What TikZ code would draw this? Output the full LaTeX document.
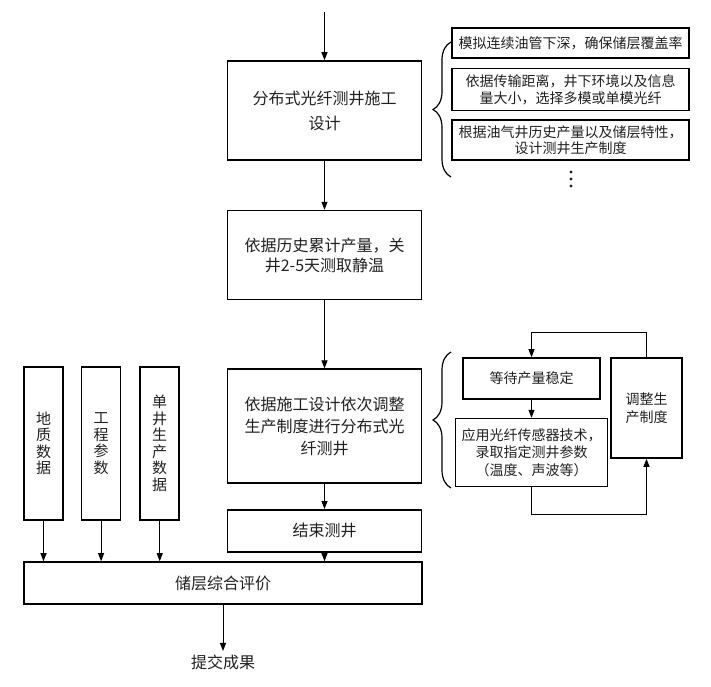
\documentclass[tikz,border=0pt]{standalone}
\usepackage{fontspec}
\newfontfamily\cjk{Noto Sans CJK SC}
\usepackage{xcolor}
\definecolor{darkText}{HTML}{202020}
\usepackage{tikz}
\usetikzlibrary{arrows.meta}
\tikzset{arrow/.style = {-{Triangle[length = 8pt, width = 6pt]}, line width = 1pt}}
\tikzset{box/.style = {draw, line width = 1.6pt, align = center, inner sep = 0pt, text = darkText, font = \cjk\fontsize{16}{22}\selectfont}}
\tikzset{mainbox/.style = {box, minimum width = 194pt}}
\tikzset{sidebox/.style = {box, font = \cjk\fontsize{14}{17.5}\selectfont}}
\tikzset{databox/.style = {box, minimum width = 39pt, minimum height = 153pt, font = \cjk\fontsize{15}{16.5}\selectfont}}
\tikzset{bracket/.style = {decorate, decoration = {brace, amplitude = 18pt}, line width = 1.2pt}}
\usetikzlibrary{positioning}
\usetikzlibrary{calc}
\usetikzlibrary{decorations.pathreplacing}

\begin{document}
\begin{tikzpicture}[x = 1pt, y = -1pt]
	\useasboundingbox (0, 0) rectangle (711, 686);

	%% Main column
	\coordinate (top) at (324.5, 12);
	\node[mainbox, minimum height = 99pt, font = \cjk\fontsize{16}{25}\selectfont] (design) at (324.5, 110.5) {分布式光纤测井施工\\设计};
	\node[mainbox, minimum height = 89pt, font = \cjk\fontsize{16}{20}\selectfont, below = 49pt of design] (hist) {依据历史累计产量，关\\井2-5天测取静温};
	\node[mainbox, minimum height = 114pt, below = 68pt of hist] (adjust) {依据施工设计依次调整\\生产制度进行分布式光\\纤测井};
	\node[mainbox, minimum height = 42pt, below = 25pt of adjust] (finish) {结束测井};

	%% Data columns
	\node[databox] (geo) at (43.5, 443.5) {地\\质\\数\\据};
	\node[databox, right = 17pt of geo] (eng) {工\\程\\参\\数};
	\node[databox, right = 18pt of eng] (prod) {单\\井\\生\\产\\数\\据};

	%% Evaluation
	\node[box, minimum width = 398pt, minimum height = 42pt] (eval) at (223, 583) {储层综合评价};
	\node[text = darkText, font = \cjk\fontsize{16}{20}\selectfont] (result) at (223, 662) {提交成果};

	%% Design details
	\node[sidebox, minimum width = 237pt, minimum height = 30pt] (sim) at (570.5, 43) {模拟连续油管下深，确保储层覆盖率};
	\node[sidebox, minimum width = 237pt, minimum height = 42pt, below = 9pt of sim] (fiber) {依据传输距离，井下环境以及信息\\量大小，选择多模或单模光纤};
	\node[sidebox, minimum width = 237pt, minimum height = 40pt, font = \cjk\fontsize{14}{16}\selectfont, below = 8pt of fiber] (sched) {根据油气井历史产量以及储层特性，\\设计测井生产制度};
	% more items
	\foreach \y in {172, 179, 186}
		\fill[darkText] (571, \y) circle (1.6pt);

	%% Logging loop
	\node[sidebox, minimum width = 137pt, minimum height = 41pt] (wait) at (531.5, 378.5) {等待产量稳定};
	\node[sidebox, minimum width = 152pt, minimum height = 68pt, below = 18pt of wait] (record) {应用光纤传感器技术，\\录取指定测井参数\\（温度、声波等）};
	\node[sidebox, minimum width = 71pt, minimum height = 100pt, font = \cjk\fontsize{14}{18}\selectfont] (tune) at (646.5, 408) {调整生\\产制度};

	%% Braces
	\draw[bracket] (451, 177) -- (451, 42);
	\draw[bracket] (451, 488) -- (451, 352);

	%% Connectors
	\draw[arrow] (top) -- (design.north);
	\draw[arrow] (design.south) -- (hist.north);
	\draw[arrow] (hist.south) -- (adjust.north);
	\draw[arrow] (adjust.south) -- (finish.north);
	\draw[arrow] (finish.south) -- (finish.south |- eval.north);
	\draw[arrow] (geo.south) -- (geo.south |- eval.north);
	\draw[arrow] (eng.south) -- (eng.south |- eval.north);
	\draw[arrow] (prod.south) -- (prod.south |- eval.north);
	\draw[arrow] (eval.south) -- (result.north);
	\draw[arrow] (wait.south) -- (record.north);
	\draw[arrow] (record.south) -- ++(0, 27) -| (tune.south);
	\draw[arrow] (tune.north) -- ++(0, -25) -| (wait.north);
\end{tikzpicture}
\end{document}
